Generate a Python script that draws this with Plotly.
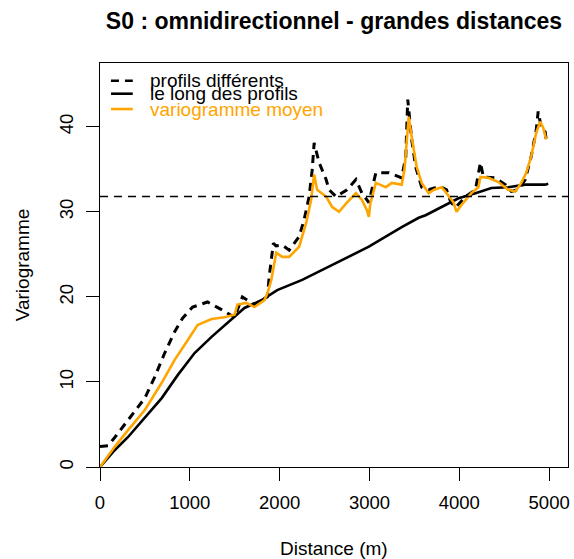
import plotly.graph_objects as go

# Experimental variograms (lag distance in metres, semivariance)
lag_diff = [0, 90, 166, 310, 499, 610, 720, 831, 920, 1031, 1197, 1353, 1497, 1585,
            1718, 1863, 1885, 1930, 1960, 2029, 2106, 2217, 2273, 2328, 2362, 2384,
            2439, 2517, 2550, 2627, 2750, 2849, 2916, 2993, 3071, 3215, 3359, 3404,
            3426, 3470, 3514, 3581, 3659, 3720, 3803, 3858, 3903, 3958, 4013, 4069,
            4180, 4235, 4268, 4401, 4512, 4579, 4656, 4734, 4800, 4856, 4878, 4911,
            4956, 4967]
gamma_diff = [2.4, 2.5, 3.5, 5.5, 8.1, 10.6, 13.4, 15.9, 17.5, 18.8, 19.4, 18.5, 17.6, 20.0,
              19.1, 20.0, 22.5, 26.3, 26.0, 26.1, 25.5, 27.1, 29.1, 31.8, 34.9, 38.1,
              35.8, 33.8, 32.6, 31.8, 32.6, 33.8, 32.2, 31.1, 34.6, 34.6, 34.0, 36.5,
              43.2, 38.5, 35.3, 32.9, 32.6, 32.8, 32.9, 32.6, 31.2, 30.5, 31.1, 31.8,
              32.6, 35.8, 34.1, 34.0, 33.2, 32.4, 32.6, 33.8, 36.5, 39.6, 41.8, 40.0,
              39.4, 38.5]

lag_along = [0, 166, 310, 499, 687, 865, 1053, 1242, 1419, 1608, 1796, 1973, 2251,
             2627, 2993, 3359, 3548, 3625, 3803, 3991, 4180, 4357, 4545, 4734, 4956, 4990]
gamma_along = [0, 2.0, 3.5, 5.8, 8.1, 10.8, 13.4, 15.3, 16.9, 18.7, 19.6, 20.8, 22.0,
               24.0, 25.9, 28.2, 29.3, 29.6, 30.6, 31.6, 32.2, 32.8, 32.9, 33.2, 33.2, 33.3]

lag_mean = [0, 166, 310, 499, 687, 831, 976, 1086, 1242, 1386, 1497, 1530, 1630, 1718,
            1829, 1863, 1907, 1962, 2029, 2106, 2217, 2295, 2350, 2384, 2417, 2517,
            2583, 2661, 2750, 2849, 2916, 2971, 2993, 3010, 3071, 3182, 3248, 3359,
            3390, 3437, 3470, 3525, 3581, 3659, 3720, 3803, 3858, 3936, 3969, 4024,
            4135, 4213, 4235, 4324, 4435, 4545, 4623, 4690, 4745, 4800, 4856, 4900,
            4934, 4967]
gamma_mean = [0, 2.4, 4.3, 6.7, 9.9, 12.6, 14.9, 16.7, 17.4, 17.6, 17.9, 19.1, 19.3, 18.8,
              19.6, 20.4, 22.0, 25.2, 24.7, 24.7, 25.9, 28.7, 31.4, 34.4, 32.6, 31.8,
              30.6, 30.0, 31.1, 32.2, 31.4, 30.2, 29.4, 31.0, 33.4, 32.9, 33.4, 33.2,
              35.0, 41.2, 38.8, 35.3, 33.4, 32.2, 32.6, 32.9, 32.2, 31.1, 30.0, 30.8,
              32.2, 32.9, 34.1, 34.0, 33.5, 32.6, 32.4, 33.4, 34.6, 36.5, 39.3, 40.6,
              39.9, 38.5]

sill = 31.8
x_ticks = [0, 1000, 2000, 3000, 4000, 5000]
y_ticks = [0, 10, 20, 30, 40]

series_names = ["profils différents", "le long des profils", "variogramme moyen"]
ORANGE = "#FFA500"
FONT = "Liberation Sans, Arial, sans-serif"

fig = go.Figure()
fig.add_trace(go.Scatter(x=lag_diff, y=gamma_diff, mode="lines", name=series_names[0],
                         line=dict(color="black", width=3, dash="8px,6px")))
fig.add_trace(go.Scatter(x=lag_along, y=gamma_along, mode="lines", name=series_names[1],
                         line=dict(color="black", width=2.6)))
fig.add_trace(go.Scatter(x=lag_mean, y=gamma_mean, mode="lines", name=series_names[2],
                         line=dict(color=ORANGE, width=2.6)))

# sill reference line
fig.add_shape(type="line", xref="paper", x0=0, x1=1, yref="y", y0=sill, y1=sill,
              line=dict(color="black", width=1.5, dash="8px,6px"))

# hand-placed legend in the top-left corner of the panel
legend_rows = [
    (0.956, dict(color="black", width=2.6, dash="8px,6px"), "black"),
    (0.924, dict(color="black", width=2.6), "black"),
    (0.886, dict(color=ORANGE, width=2.6), ORANGE),
]
for (yp, ln, tc), name in zip(legend_rows, series_names):
    fig.add_shape(type="line", xref="paper", yref="paper", x0=0.0234, x1=0.070,
                  y0=yp, y1=yp, line=ln)
    fig.add_annotation(xref="paper", yref="paper", x=0.102, y=yp, text=name,
                       showarrow=False, xanchor="left", yanchor="middle",
                       font=dict(family=FONT, size=19, color=tc))

fig.add_annotation(xref="paper", yref="paper", x=0.5, y=-0.2005, text="Distance (m)",
                   showarrow=False, xanchor="center", yanchor="middle",
                   font=dict(family=FONT, size=19, color="black"))
fig.add_annotation(xref="paper", yref="paper", x=-0.166, y=0.5, text="Variogramme",
                   showarrow=False, textangle=-90, xanchor="center", yanchor="middle",
                   font=dict(family=FONT, size=19, color="black"))

axis_common = dict(showline=True, linecolor="black", linewidth=1, mirror=True,
                   ticks="outside", ticklen=13, tickcolor="black", tickwidth=1,
                   showgrid=False, zeroline=False,
                   tickfont=dict(family=FONT, size=18.5, color="black"))

fig.update_layout(
    width=574, height=559,
    margin=dict(l=100, r=4, t=63, b=92),
    plot_bgcolor="white", paper_bgcolor="white",
    showlegend=False,
    title=dict(text="<b>S0 : omnidirectionnel - grandes distances</b>",
               x=0.5, xref="paper", xanchor="center",
               y=1 - 21 / 559, yref="container", yanchor="middle",
               font=dict(family=FONT, size=23, color="black")),
    xaxis=dict(range=[0, 5210], tickvals=x_ticks, ticklabelstandoff=6, **axis_common),
    yaxis=dict(range=[0, 47.5], tickvals=y_ticks, tickangle=-90, ticklabelstandoff=6,
               **axis_common),
)

fig.write_html("out.html")
